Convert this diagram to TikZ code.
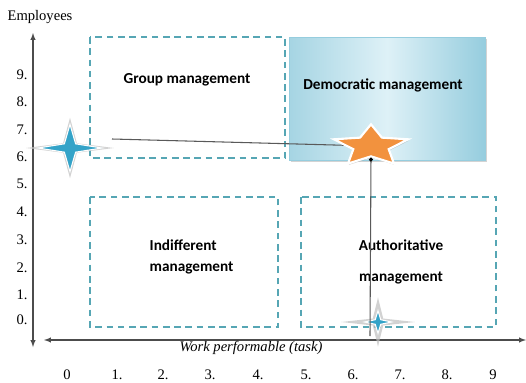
\documentclass[tikz,border=0pt]{standalone}
\usepackage{fontspec}
\setmainfont{Liberation Serif}
\newfontfamily\boxfont{Carlito}
\usepackage{xcolor}
\usetikzlibrary{shapes.geometric}
\usetikzlibrary{arrows,arrows.meta,shadows}

\definecolor{dashteal}{RGB}{86,166,180}
\definecolor{demolight}{RGB}{222,241,247}
\definecolor{demodark}{RGB}{150,205,222}
\definecolor{starorange}{RGB}{242,146,62}
\definecolor{starblue}{RGB}{52,163,200}

\tikzset{
  quadrant/.style={draw=dashteal, line width=1.1pt, dash pattern=on 5pt off 3.5pt},
  boxlabel/.style={font=\boxfont\bfseries\fontsize{11.5}{16}\selectfont},
  ticklabel/.style={font=\fontsize{11}{13}\selectfont},
  axis/.style={draw=black!70, line width=0.8pt, latex-latex},
  link/.style={draw=black!65, line width=0.8pt},
  glow/.style={star, star points=4, inner sep=0pt, fill=black!25, fill opacity=0.7},
  spark/.style={star, star points=4, inner sep=0pt, fill=starblue, draw=white, line width=0.8pt},
}

\begin{document}
\begin{tikzpicture}[x=0.0265cm, y=-0.0265cm]
\useasboundingbox (0,0) rectangle (526,383);

% axes
\draw [axis] (33,33) -- (33,347);
\draw [axis] (44,340) -- (526,340);
\node [font=\fontsize{11}{13}\selectfont] (ylab) at (40,17) {Employees};
\node [font=\itshape\fontsize{11}{13}\selectfont] (xlab) at (251,348) {Work performable (task)};

\foreach \t/\yy in {9./75, 8./102, 7./130, 6./157, 5./184, 4./212, 3./240, 2./268, 1./295, 0./320}
  \node [ticklabel] (y\yy) at (22,\yy) {\t};
\foreach \t/\xx in {0/67, 1./117, 2./163, 3./210, 4./258, 5./306, 6./353, 7./400, 8./447, 9/493}
  \node [ticklabel] (x\xx) at (\xx,375) {\t};

% quadrants
\draw [quadrant] (90,37) rectangle (285,158);
\draw [quadrant] (90,197) rectangle (278,327);
\draw [quadrant] (301,197) rectangle (496,327);
\draw [draw=demodark, left color=demodark!85, right color=demodark, middle color=demolight,
  drop shadow={opacity=0.35, shadow xshift=1.5pt, shadow yshift=-1.5pt}] (289,37) rectangle (485,160);

\node [boxlabel] (group) at (187,80) {Group management};
\node [boxlabel] (demo) at (383,85) {Democratic management};
\node [boxlabel, align=left, anchor=west] (indiff) at (145,257) {Indifferent\\management};
\node [boxlabel, align=center] (autho) at (401,262) {Authoritative\\[7pt]management};

% stars and links
\coordinate (pick) at (371,146);
\coordinate (hstart) at (112,139);
\coordinate (xfoot) at (370,336);
\draw [link] (hstart) -- (pick);

\node [glow, star point ratio=4.5, minimum size=1.6cm, xscale=1.45] (bglow) at (70,148) {};
\node [spark, star point ratio=4, minimum size=1.25cm, xscale=1.35] (bstar) at (70,148) {};

\node [glow, star point ratio=5, minimum size=1.3cm, xscale=1.5] (sglow) at (378,322) {};
\node [spark, star point ratio=3.5, minimum size=0.6cm, xscale=1.2] (sstar) at (378,322) {};

\node [star, star points=5, star point ratio=2.1, minimum size=1.15cm, xscale=1.8, inner sep=0pt,
  fill=starorange, draw=white, line width=1.6pt,
  drop shadow={opacity=0.35, shadow xshift=0.6pt, shadow yshift=-1pt}] (ostar) at (pick) {};
\draw [link, {Circle[length=3pt, black]}-] (ostar.south) -- (xfoot);

\end{tikzpicture}
\end{document}
